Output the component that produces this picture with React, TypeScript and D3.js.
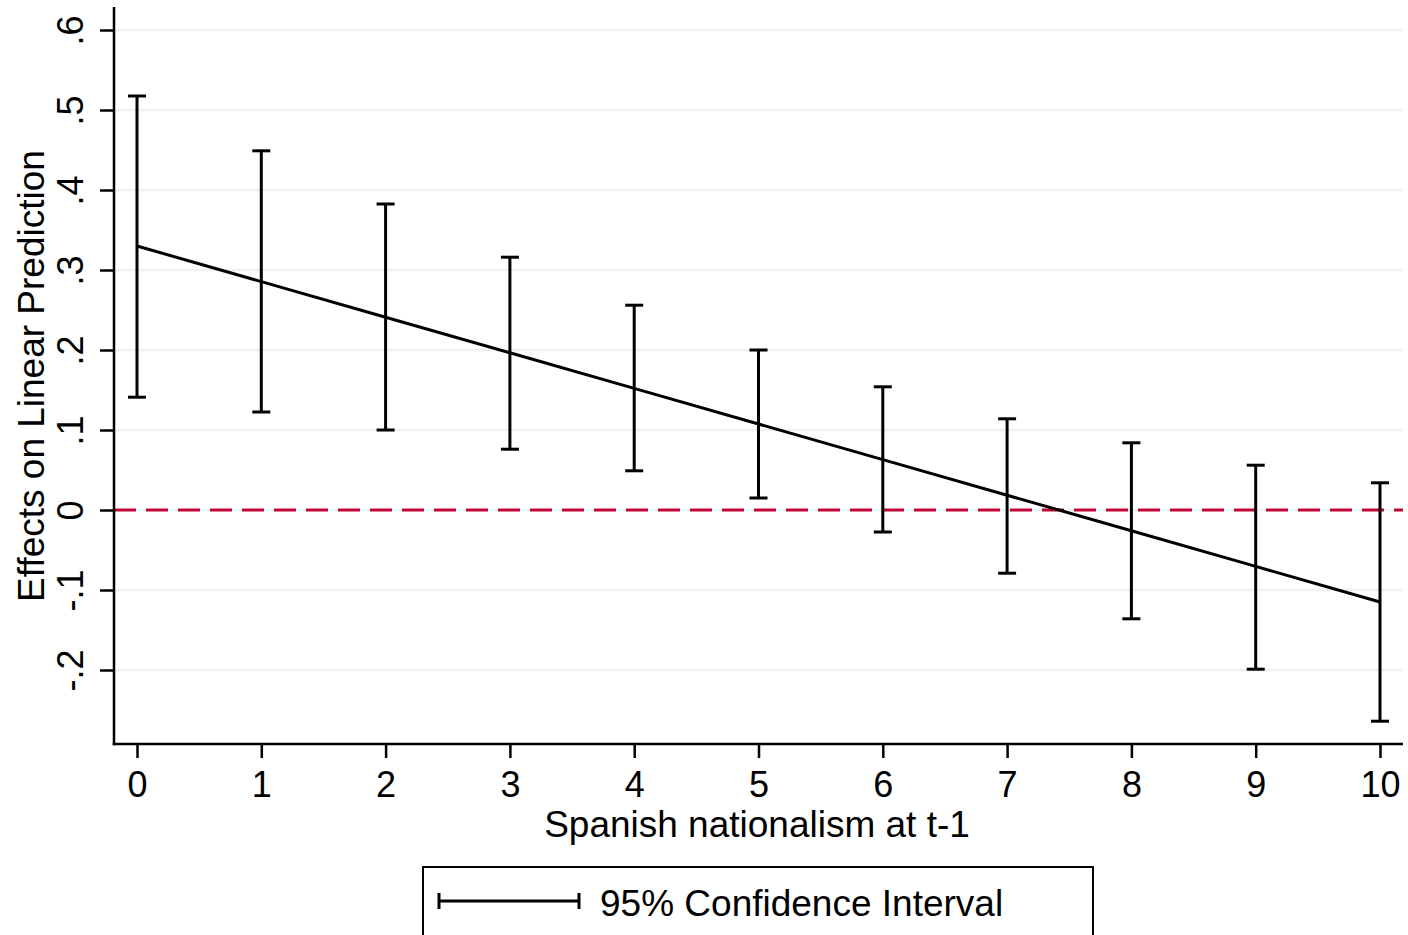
import { useEffect, useRef } from "react";
import * as d3 from "d3";

const xValues = [0, 1, 2, 3, 4, 5, 6, 7, 8, 9, 10];
const estimates = [0.33, 0.2855, 0.241, 0.1965, 0.152, 0.1075, 0.063, 0.0185, -0.026, -0.0705, -0.115];
const upper = [0.5175, 0.449, 0.3825, 0.316, 0.256, 0.2, 0.154, 0.114, 0.084, 0.056, 0.034];
const lower = [0.141, 0.1225, 0.1, 0.076, 0.049, 0.015, -0.0275, -0.079, -0.136, -0.199, -0.264];
const yTicks = [-0.2, -0.1, 0, 0.1, 0.2, 0.3, 0.4, 0.5, 0.6];

const W = 1408;
const H = 935;
const FONT = "'Liberation Sans', Arial, Helvetica, sans-serif";

// Stata style: ".1", "-.2", "0"
function fmtTick(v: number): string {
  if (Math.abs(v) < 1e-9) return "0";
  const s = v.toFixed(1);
  return s.replace(/^(-?)0\./, "$1.");
}

export default function App() {
  const ref = useRef<SVGSVGElement>(null);

  useEffect(() => {
    if (!ref.current) return;
    const svg = d3.select(ref.current);
    svg.selectAll("*").remove();

    const left = 114, right = 1403, top = 7, bottom = 744;
    const x = d3.scaleLinear().domain([0, 10]).range([137, 1380]);
    const y = d3.scaleLinear().domain([0, 0.1]).range([510, 430]);

    svg.append("rect").attr("width", W).attr("height", H).attr("fill", "#fff");

    // gridlines
    svg.append("g")
      .selectAll("line")
      .data(yTicks)
      .join("line")
      .attr("x1", left + 1).attr("x2", right)
      .attr("y1", (d) => y(d)).attr("y2", (d) => y(d))
      .attr("stroke", "#eaf2f3").attr("stroke-width", 2.5);

    // zero reference
    svg.append("line")
      .attr("x1", left).attr("x2", right)
      .attr("y1", y(0)).attr("y2", y(0))
      .attr("stroke", "#c10534").attr("stroke-width", 3)
      .attr("stroke-dasharray", "22 10");

    // confidence intervals
    const ci = svg.append("g").attr("stroke", "#000").attr("stroke-width", 3);
    xValues.forEach((xv, i) => {
      const cx = x(xv);
      ci.append("line").attr("x1", cx).attr("x2", cx).attr("y1", y(upper[i])).attr("y2", y(lower[i]));
      ci.append("line").attr("x1", cx - 9).attr("x2", cx + 9).attr("y1", y(upper[i])).attr("y2", y(upper[i]));
      ci.append("line").attr("x1", cx - 9).attr("x2", cx + 9).attr("y1", y(lower[i])).attr("y2", y(lower[i]));
    });

    // estimate line
    const line = d3.line<number>().x((_, i) => x(xValues[i])).y((d) => y(d));
    svg.append("path")
      .attr("d", line(estimates) ?? "")
      .attr("fill", "none").attr("stroke", "#000").attr("stroke-width", 3);

    // y axis
    const yAxis = d3.axisLeft(y).tickValues(yTicks).tickFormat((d) => fmtTick(+d)).tickSize(14).tickSizeOuter(0);
    const yg = svg.append("g").attr("transform", `translate(${left},0)`).call(yAxis);
    yg.attr("font-size", null).attr("font-family", null);
    yg.select(".domain").remove();
    yg.selectAll(".tick line").attr("stroke", "#000").attr("stroke-width", 2.5);
    yg.selectAll<SVGTextElement, number>(".tick text")
      .attr("x", 0).attr("dy", null)
      .attr("transform", "translate(-31,0) rotate(-90)")
      .attr("text-anchor", "middle")
      .style("font-family", FONT).style("font-size", "36px").attr("fill", "#000");
    svg.append("line").attr("x1", left).attr("x2", left).attr("y1", top).attr("y2", bottom + 1.25)
      .attr("stroke", "#000").attr("stroke-width", 2.5);

    // x axis
    const xAxis = d3.axisBottom(x).tickValues(xValues).tickFormat((d) => String(d)).tickSize(14).tickSizeOuter(0);
    const xg = svg.append("g").attr("transform", `translate(0,${bottom})`).call(xAxis);
    xg.attr("font-size", null).attr("font-family", null);
    xg.select(".domain").remove();
    xg.selectAll(".tick line").attr("stroke", "#000").attr("stroke-width", 2.5);
    xg.selectAll(".tick text")
      .attr("y", 53).attr("dy", null)
      .style("font-family", FONT).style("font-size", "36px").attr("fill", "#000");
    svg.append("line").attr("x1", left - 1.25).attr("x2", right).attr("y1", bottom).attr("y2", bottom)
      .attr("stroke", "#000").attr("stroke-width", 2.5);

    // axis titles
    svg.append("text")
      .attr("x", 757).attr("y", 837)
      .attr("text-anchor", "middle")
      .style("font-family", FONT).style("font-size", "37px").attr("fill", "#000")
      .text("Spanish nationalism at t-1");
    svg.append("text")
      .attr("transform", `translate(44,376) rotate(-90)`)
      .attr("text-anchor", "middle")
      .style("font-family", FONT).style("font-size", "37px").attr("fill", "#000")
      .text("Effects on Linear Prediction");

    // legend
    const lg = svg.append("g");
    lg.append("rect")
      .attr("x", 423).attr("y", 867).attr("width", 670).attr("height", 100)
      .attr("fill", "#fff").attr("stroke", "#000").attr("stroke-width", 2);
    lg.append("line").attr("x1", 439).attr("x2", 579).attr("y1", 901).attr("y2", 901)
      .attr("stroke", "#000").attr("stroke-width", 3);
    lg.append("line").attr("x1", 439).attr("x2", 439).attr("y1", 893).attr("y2", 909)
      .attr("stroke", "#000").attr("stroke-width", 3);
    lg.append("line").attr("x1", 579).attr("x2", 579).attr("y1", 893).attr("y2", 909)
      .attr("stroke", "#000").attr("stroke-width", 3);
    lg.append("text")
      .attr("x", 600).attr("y", 916)
      .style("font-family", FONT).style("font-size", "37px").attr("fill", "#000")
      .text("95% Confidence Interval");
  }, []);

  return (
    <div style={{ position: "fixed", left: 0, top: 0, width: W, height: H, overflow: "hidden" }}>
      <svg ref={ref} width={W} height={H} style={{ display: "block" }} />
    </div>
  );
}
